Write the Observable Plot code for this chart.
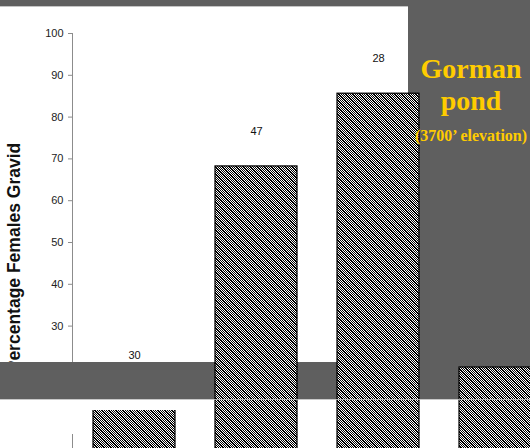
<!DOCTYPE html>
<html>
<head>
<meta charset="utf-8">
<script src="https://cdn.jsdelivr.net/npm/d3@7"></script>
<script src="https://cdn.jsdelivr.net/npm/@observablehq/plot@0.6"></script>
<style>
  html, body { margin: 0; padding: 0; background: #fff; overflow: hidden; }
  #stage { position: relative; width: 530px; height: 448px; overflow: hidden; background: #fff; }
  .slab { position: absolute; background: #5f5f5f; }
  .paper { position: absolute; background: #fff; }
  .hair { position: absolute; }
  #chart { position: absolute; left: 0; top: 0; width: 562px; height: 451px; z-index: 1; }
  #chart svg { display: block; max-width: none; width: 562px; height: 451px; }
  #caption { position: absolute; left: 0; top: 0; z-index: 3; }
</style>
</head>
<body>
<div id="stage">
  <!-- slide backdrop behind the chart -->
  <div class="slab" style="left:0;top:0;width:530px;height:6px;z-index:0"></div>
  <div class="hair" style="left:0;top:6px;width:408px;height:1px;background:#c4c4c4;z-index:0"></div>
  <div class="slab" style="left:408px;top:0;width:122px;height:399px;z-index:0"></div>
  <div class="slab" style="left:0;top:362px;width:530px;height:37px;z-index:0"></div>

  <div id="chart"></div>

  <!-- pieces of the slide lying over the first bar and the foot of the axis -->
  <div class="slab" style="left:0;top:362px;width:192px;height:37px;z-index:2"></div>
  <div class="paper" style="left:0;top:399px;width:92px;height:35px;z-index:2"></div>
  <div class="paper" style="left:86px;top:399px;width:94px;height:11px;z-index:2"></div>
  <div class="hair" style="left:0;top:399px;width:530px;height:1px;background:rgba(190,190,190,0.85);z-index:3"></div>

  <svg id="caption" width="530" height="448">
    <g fill="#ffcc00" font-family="'Liberation Serif', 'Times New Roman', serif" font-weight="bold" text-anchor="middle">
      <text x="471" y="78" font-size="28">Gorman</text>
      <text x="471" y="110" font-size="28">pond</text>
      <text x="471" y="141" font-size="16">(3700’ elevation)</text>
    </g>
  </svg>
</div>
<script>
// Ponds sampled, share of females gravid (%) and number of females examined
const ponds = ["Pond 1", "Pond 2", "Pond 3", "Pond 4"];
const gravidPct = [14.6, 68.2, 85.6, 20.1];
const sampleSize = [30, 47, 28, null];
const yTicks = [10, 20, 30, 40, 50, 60, 70, 80, 90, 100];
const yLabel = "Percentage Females Gravid";

const rows = ponds.map((pond, i) => ({pond, pct: gravidPct[i], n: sampleSize[i]}));

const chart = Plot.plot({
  width: 562,
  height: 451,
  marginLeft: 72,
  marginRight: 0,
  marginTop: 33,
  marginBottom: 0,
  style: {
    background: "transparent",
    fontFamily: "Arial, 'Liberation Sans', sans-serif",
    fontSize: "11px",
    color: "#222",
    overflow: "visible"
  },
  x: {domain: ponds, paddingInner: 0.327, paddingOuter: 0.163, axis: null},
  y: {domain: [0, 100], axis: null},
  marks: [
    Plot.frame({anchor: "left", stroke: "#8c8c8c"}),
    Plot.axisY({ticks: yTicks, tickSize: 4, tickPadding: 5, stroke: "#8c8c8c", fill: "#222", fontSize: 11, label: null}),
    Plot.barY(rows, {x: "pond", y: "pct", fill: "url(#gravid-hatch)", stroke: "#000", strokeWidth: 1.2}),
    Plot.text(rows.filter(d => d.n != null), {x: "pond", y: "pct", text: "n", dy: -35, fill: "#111", fontSize: 11}),
    Plot.text([yLabel], {
      frameAnchor: "left", textAnchor: "middle",
      rotate: -90, dx: -58, dy: 15, fontSize: 17.5, fontWeight: "bold", fill: "#111"
    })
  ]
});

document.getElementById("chart").appendChild(chart);

// fine dithered diagonal hatch used to fill the bars
const svg = chart.tagName.toLowerCase() === "svg" ? chart : chart.querySelector("svg");
const pat = d3.select(svg).insert("defs", ":first-child")
  .append("pattern")
  .attr("id", "gravid-hatch")
  .attr("patternUnits", "userSpaceOnUse")
  .attr("width", 7).attr("height", 7);
pat.append("rect").attr("width", 7).attr("height", 7).attr("fill", "#fff");
for (let y = 0; y < 7; ++y) {
  for (let x = 0; x < 7; ++x) {
    const diag = ((x - y) % 7 + 7) % 7;
    if (diag % 2 === 0) {
      pat.append("rect").attr("x", x).attr("y", y).attr("width", 1).attr("height", 1)
        .attr("fill", "#000").attr("shape-rendering", "crispEdges");
    }
  }
}
</script>
</body>
</html>
